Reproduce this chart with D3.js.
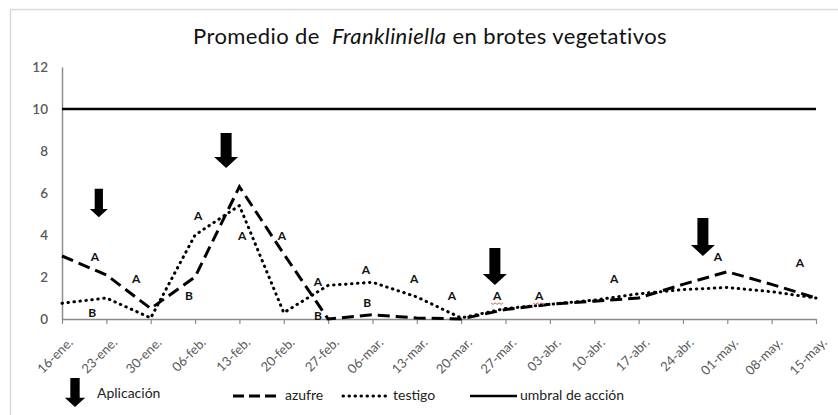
<!DOCTYPE html>
<html>
<head>
<meta charset="utf-8">
<script src="https://cdn.jsdelivr.net/npm/d3@7"></script>
<style>
  body { margin: 0; background: #fff; }
  text { font-family: Lato, "Open Sans", sans-serif; }
</style>
</head>
<body>
<div id="chart"></div>
<script>
// weekly sampling dates
var semanas = ["16-ene.", "23-ene.", "30-ene.", "06-feb.", "13-feb.", "20-feb.", "27-feb.",
    "06-mar.", "13-mar.", "20-mar.", "27-mar.", "03-abr.", "10-abr.", "17-abr.",
    "24-abr.", "01-may.", "08-may.", "15-may."];

var azufre = [3.0, 2.1, 0.5, 2.0, 6.3, 3.1, 0.0, 0.2, 0.05, 0.0, 0.45, 0.7, 0.85, 1.0, 1.65, 2.25, 1.65, 1.0];
var testigo = [0.75, 1.0, 0.05, 4.0, 5.4, 0.3, 1.6, 1.75, 1.05, 0.05, 0.5, 0.7, 0.9, 1.2, 1.4, 1.5, 1.3, 1.0];
var umbral = 10;

var yTicks = [0, 2, 4, 6, 8, 10, 12];

// significance letters (week index, value, letter)
var letras = [
    { w: 0.74, v: 2.95, t: "A" }, { w: 0.68, v: 0.29, t: "B" },
    { w: 1.67, v: 1.9, t: "A" }, { w: 2.86, v: 1.1, t: "B" },
    { w: 3.07, v: 4.9, t: "A" }, { w: 4.06, v: 3.95, t: "A" },
    { w: 4.96, v: 3.95, t: "A" }, { w: 5.77, v: 1.8, t: "A" },
    { w: 5.77, v: 0.14, t: "B" }, { w: 6.85, v: 2.33, t: "A" },
    { w: 6.88, v: 0.76, t: "B" }, { w: 7.94, v: 1.9, t: "A" },
    { w: 8.79, v: 1.1, t: "A" }, { w: 9.81, v: 1.1, t: "A" },
    { w: 10.76, v: 1.1, t: "A" }, { w: 12.45, v: 1.9, t: "A" },
    { w: 14.79, v: 2.95, t: "A" }, { w: 16.64, v: 2.67, t: "A" }
];
// letters with the red spell-check squiggle
var subrayadas = [13, 14];

// application arrows (week index, top value, tip value)
var aplicaciones = [
    { w: 0.83, top: 6.2, tip: 4.85 },
    { w: 3.70, top: 8.86, tip: 7.19 },
    { w: 9.76, top: 3.38, tip: 1.62 },
    { w: 14.45, top: 4.81, tip: 3.0 }
];
var escalaFlecha = [0.75, 1, 1, 1];

var W = 838, H = 415;
var svg = d3.select("#chart").append("svg")
    .attr("width", W)
    .attr("height", H);

svg.append("rect").attr("width", W).attr("height", H).attr("fill", "#fff");
// chart frame
svg.append("rect")
    .attr("x", 10.5).attr("y", 9.5)
    .attr("width", 900).attr("height", 500)
    .attr("fill", "none")
    .attr("stroke", "#d9d9d9")
    .attr("stroke-width", 1.5);

var x = d3.scaleLinear().domain([0, semanas.length - 1]).range([62, 816]);
var y = d3.scaleLinear().domain([0, 12]).range([319, 67]);

// title
var title = svg.append("text")
    .attr("x", 430).attr("y", 44)
    .attr("text-anchor", "middle")
    .attr("font-size", 22)
    .attr("letter-spacing", 0.4)
    .attr("fill", "#111");
title.append("tspan").text("Promedio de\u00a0\u00a0");
title.append("tspan").attr("font-style", "italic").text("Frankliniella");
title.append("tspan").text(" en brotes vegetativos");

// y axis
var yAxis = svg.append("g")
    .attr("transform", "translate(" + 62 + ",0)")
    .call(d3.axisLeft(y).tickValues(yTicks).tickSize(0).tickPadding(14));
yAxis.select(".domain").attr("stroke", "#8c8c8c").attr("stroke-width", 1.5);
yAxis.selectAll("text")
    .attr("font-family", "Lato, sans-serif")
    .attr("font-size", 13.5)
    .attr("font-weight", 600)
    .attr("fill", "#595959");

// x axis
var xAxis = svg.append("g")
    .attr("transform", "translate(0," + 319 + ")")
    .call(d3.axisBottom(x)
        .tickValues(d3.range(semanas.length))
        .tickFormat(function (i) { return semanas[i]; })
        .tickSize(5)
        .tickSizeOuter(0));
xAxis.select(".domain").attr("stroke", "#8c8c8c").attr("stroke-width", 1.5);
xAxis.selectAll(".tick line").attr("stroke", "#8c8c8c").attr("stroke-width", 1.2);
xAxis.selectAll("text")
    .attr("x", 0).attr("y", 0)
    .attr("dy", "0.35em")
    .attr("text-anchor", "end")
    .attr("transform", "translate(8,21) rotate(-45)")
    .attr("font-family", "Lato, sans-serif")
    .attr("font-size", 13)
    .attr("fill", "#595959");

// threshold
svg.append("line")
    .attr("x1", x(0)).attr("x2", x(semanas.length - 1))
    .attr("y1", y(umbral)).attr("y2", y(umbral))
    .attr("stroke", "#000")
    .attr("stroke-width", 2.6);

var line = d3.line()
    .x(function (d, i) { return x(i); })
    .y(function (d) { return y(d); });

svg.append("path")
    .datum(testigo)
    .attr("d", line)
    .attr("fill", "none")
    .attr("stroke", "#000")
    .attr("stroke-width", 3)
    .attr("stroke-linecap", "round")
    .attr("stroke-dasharray", "0.5 5.5");

svg.append("path")
    .datum(azufre)
    .attr("d", line)
    .attr("fill", "none")
    .attr("stroke", "#000")
    .attr("stroke-width", 3)
    .attr("stroke-dasharray", "12 6");

// letters
svg.append("g").selectAll("text")
    .data(letras)
    .enter()
    .append("text")
    .attr("x", function (d) { return x(d.w); })
    .attr("y", function (d) { return y(d.v); })
    .attr("dy", "0.36em")
    .attr("text-anchor", "middle")
    .attr("font-family", "'Liberation Sans', Arial, sans-serif")
    .attr("font-weight", "bold")
    .attr("font-size", 12)
    .attr("fill", "#111")
    .text(function (d) { return d.t; });

// red squiggles
subrayadas.forEach(function (k) {
    var d = letras[k];
    var cx = x(d.w), cy = y(d.v) + 7;
    var pts = d3.range(0, 7).map(function (j) {
        return [cx - 6 + j * 2, cy + (j % 2 ? 1.5 : 0)];
    });
    svg.append("path")
        .attr("d", d3.line()(pts))
        .attr("fill", "none")
        .attr("stroke", "#e35b5b")
        .attr("stroke-width", 1);
});

function flecha(cx, top, tip, s) {
    var sw = 5.5 * s, hw = 12 * s, hl = 11 * s;
    var hy = tip - hl;
    return "M" + (cx - sw) + "," + top + "L" + (cx + sw) + "," + top +
        "L" + (cx + sw) + "," + hy + "L" + (cx + hw) + "," + hy +
        "L" + cx + "," + tip + "L" + (cx - hw) + "," + hy +
        "L" + (cx - sw) + "," + hy + "Z";
}

svg.append("g").selectAll("path")
    .data(aplicaciones)
    .enter()
    .append("path")
    .attr("d", function (d, i) { return flecha(x(d.w), y(d.top), y(d.tip), escalaFlecha[i]); })
    .attr("fill", "#000");

// legend
var lg = svg.append("g");
lg.append("path").attr("d", flecha(75, 378, 407, 0.85)).attr("fill", "#000");
lg.append("text").attr("x", 97).attr("y", 398).attr("font-size", 14).attr("fill", "#222").text("Aplicación");

lg.append("line").attr("x1", 233).attr("x2", 279).attr("y1", 396).attr("y2", 396)
    .attr("stroke", "#000").attr("stroke-width", 3).attr("stroke-dasharray", "11 5");
lg.append("text").attr("x", 285).attr("y", 400).attr("font-size", 14).attr("fill", "#222").text("azufre");

lg.append("line").attr("x1", 343).attr("x2", 388).attr("y1", 396).attr("y2", 396)
    .attr("stroke", "#000").attr("stroke-width", 3).attr("stroke-linecap", "round")
    .attr("stroke-dasharray", "0.5 5.5");
lg.append("text").attr("x", 393).attr("y", 400).attr("font-size", 14).attr("fill", "#222").text("testigo");

lg.append("line").attr("x1", 470).attr("x2", 517).attr("y1", 396).attr("y2", 396)
    .attr("stroke", "#000").attr("stroke-width", 2.6);
lg.append("text").attr("x", 520).attr("y", 400).attr("font-size", 14).attr("fill", "#222").text("umbral de acción");
</script>
</body>
</html>
